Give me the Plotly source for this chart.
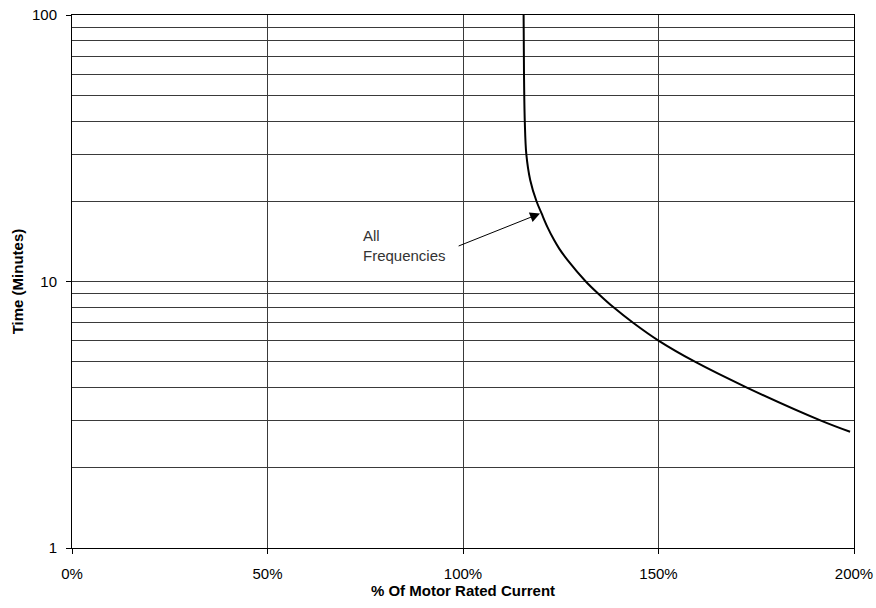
import plotly.graph_objects as go

# curve (grid crossings)
current_pct = [115.5, 115.6, 115.8, 116.2, 117.2, 118.8, 120.1, 121.6, 123.3, 124.65,
               126.8, 131.4, 134.6, 138.5, 143.5, 150.0, 159.3, 172.6, 191.7, 199.0]
time_min = [100, 60, 40, 30, 24, 20, 18, 16, 14.3, 13.26,
            12, 10, 9, 8, 7, 6, 5, 4, 3, 2.73]

x_ticks = [0, 50, 100, 150, 200]
x_tick_text = ["0%", "50%", "100%", "150%", "200%"]
y_ticks = [1, 10, 100]
y_minor = [2, 3, 4, 5, 6, 7, 8, 9, 20, 30, 40, 50, 60, 70, 80, 90]

FONT = "Liberation Sans, Arial, sans-serif"
GRID = "#3a3a3a"

fig = go.Figure()
fig.add_trace(go.Scatter(
    x=current_pct, y=time_min, mode="lines",
    line=dict(color="black", width=2, shape="spline", smoothing=1.0),
    showlegend=False, hoverinfo="skip",
))

# label + arrow
fig.add_annotation(
    x=74.0, y=1.135, xref="x", yref="y",
    text="All<br>Frequencies", showarrow=False,
    xanchor="left", yanchor="middle", align="left",
    font=dict(family=FONT, size=15, color="#333"),
)
fig.add_annotation(
    x=119.7, y=1.255, xref="x", yref="y",
    ax=98.5, ay=1.131, axref="x", ayref="y",
    text="", showarrow=True,
    arrowhead=2, arrowsize=2, arrowwidth=1, arrowcolor="black",
)

fig.update_xaxes(
    range=[0, 200], tickvals=x_ticks, ticktext=x_tick_text,
    showgrid=True, gridcolor=GRID, gridwidth=1,
    showline=True, linecolor="black", linewidth=1, mirror=True,
    ticks="outside", ticklen=5, tickcolor="black", ticklabelstandoff=7,
    zeroline=False, automargin=False,
    title=dict(text="<b>% Of Motor Rated Current</b>", font=dict(family=FONT, size=15, color="black"), standoff=2),
    tickfont=dict(family=FONT, size=15, color="black"),
)
fig.update_yaxes(
    type="log", range=[0, 2], tickvals=y_ticks, ticktext=["1", "10", "100"],
    showgrid=True, gridcolor=GRID, gridwidth=1,
    minor=dict(tickvals=y_minor, showgrid=True, gridcolor=GRID, gridwidth=1, ticks=""),
    showline=True, linecolor="black", linewidth=1, mirror=True,
    ticks="outside", ticklen=5, tickcolor="black", ticklabelstandoff=6,
    zeroline=False, automargin=False,
    title=dict(text="<b>Time (Minutes)</b>", font=dict(family=FONT, size=15, color="black"), standoff=4),
    tickfont=dict(family=FONT, size=15, color="black"),
)

fig.update_layout(
    width=876, height=608,
    margin=dict(l=72, r=22, t=15, b=60),
    paper_bgcolor="white", plot_bgcolor="white",
    font=dict(family=FONT, color="black"),
)

# drop the default page margin so the figure fills the window
fig.write_html("out.html", config={"displayModeBar": False},
               post_script="document.body.style.margin='0';")
